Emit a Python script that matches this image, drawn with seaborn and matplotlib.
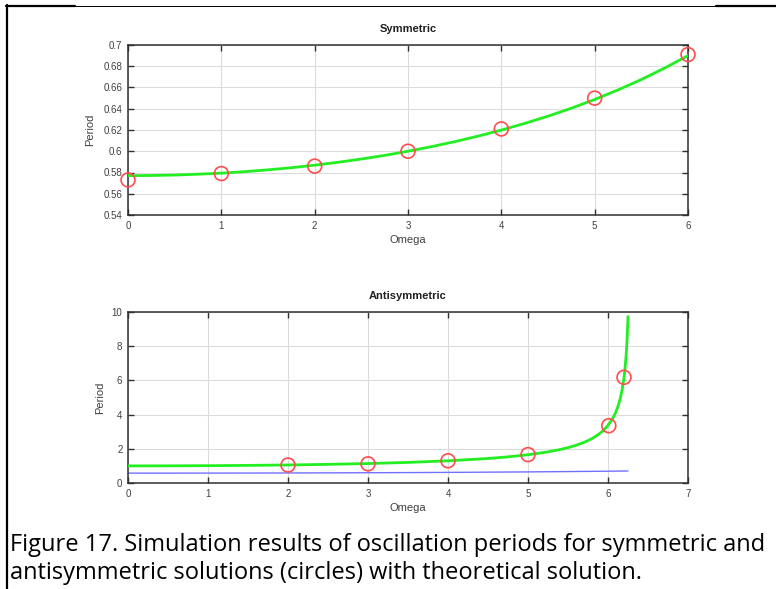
import matplotlib
matplotlib.use("Agg")
import matplotlib.pyplot as plt
import seaborn as sns
from matplotlib.lines import Line2D

# ---------------- data ----------------
# Symmetric: simulation (circles)
sym_omega = [0, 1, 2, 3, 4, 5, 6]
sym_period = [0.573, 0.579, 0.586, 0.600, 0.621, 0.650, 0.691]
# Symmetric: theoretical curve
sym_theory_omega = [0, 0.25, 0.5, 0.75, 1, 1.25, 1.5, 1.75, 2, 2.25, 2.5, 2.75,
                    3, 3.25, 3.5, 3.75, 4, 4.25, 4.5, 4.75, 5, 5.25, 5.5, 5.75, 6]
sym_theory_period = [0.577, 0.5772, 0.5776, 0.5784, 0.5794, 0.5808, 0.5825,
                     0.5845, 0.5869, 0.5896, 0.5927, 0.5961, 0.6000, 0.6043,
                     0.6090, 0.6142, 0.6199, 0.6262, 0.6330, 0.6405, 0.6487,
                     0.6577, 0.6675, 0.6783, 0.6900]

# Antisymmetric: simulation (circles)
anti_omega = [2, 3, 4, 5, 6.01, 6.2]
anti_period = [1.05, 1.12, 1.3, 1.66, 3.35, 6.18]
# Antisymmetric: theoretical curve (green)
anti_theory_omega = [0, 0.5, 1, 1.5, 2, 2.5, 3, 3.5, 4, 4.5, 4.75, 5, 5.25,
                     5.4, 5.5, 5.6, 5.7, 5.75, 5.8, 5.85, 5.9, 5.95, 6.0,
                     6.05, 6.075, 6.1, 6.125, 6.15, 6.175, 6.2, 6.21, 6.225,
                     6.235, 6.24, 6.245, 6.25]
anti_theory_period = [1.0, 1.003, 1.013, 1.030, 1.055, 1.090, 1.138, 1.204,
                      1.297, 1.433, 1.528, 1.651, 1.820, 1.956, 2.068, 2.205,
                      2.377, 2.481, 2.600, 2.741, 2.908, 3.112, 3.369, 3.704,
                      3.917, 4.171, 4.485, 4.882, 5.412, 6.170, 6.571, 7.360,
                      8.090, 8.547, 9.083, 9.736]
# Antisymmetric panel: symmetric theory shown for reference (blue)
blue_omega = [0, 1, 2, 3, 4, 5, 5.5, 6, 6.25]
blue_period = [0.577, 0.579, 0.587, 0.600, 0.620, 0.649, 0.668, 0.690, 0.703]

sym_yticks = [0.54, 0.56, 0.58, 0.6, 0.62, 0.64, 0.66, 0.68, 0.7]
sym_yticklabels = ["0.54", "0.56", "0.58", "0.6", "0.62", "0.64", "0.66", "0.68", "0.7"]
sym_xticks = [0, 1, 2, 3, 4, 5, 6]
anti_yticks = [0, 2, 4, 6, 8, 10]
anti_xticks = [0, 1, 2, 3, 4, 5, 6, 7]

caption_lines = ["Figure 17. Simulation results of oscillation periods for symmetric and",
                 "antisymmetric solutions (circles) with theoretical solution."]

# ---------------- style ----------------
sns.set_style("white")
plt.rcParams['font.family'] = ['Liberation Sans', 'DejaVu Sans']

W, H = 776, 589
fig = plt.figure(figsize=(W / 100, H / 100), dpi=100)

GREEN = "#22ee22"
RED = "#ff4d4d"
BLUE = "#7070ff"
TXT = "#404040"


def style_axes(ax):
    for s in ax.spines.values():
        s.set_color("#303030")
        s.set_linewidth(1.1)
        s.set_visible(True)
    ax.tick_params(direction="in", length=4, width=1.0, colors="#303030",
                   labelcolor=TXT, labelsize=7, top=True, right=True,
                   bottom=True, left=True, pad=4)
    ax.grid(True, color="#dcdcdc", linewidth=0.8)
    ax.set_axisbelow(True)


# Top: Symmetric
ax1 = fig.add_axes([128 / W, 1 - 215 / H, 560 / W, 170 / H])
sns.lineplot(x=sym_theory_omega, y=sym_theory_period, ax=ax1, color=GREEN,
             linewidth=2.0, zorder=3)
sns.scatterplot(x=sym_omega, y=sym_period, ax=ax1, marker="o", s=100,
                facecolor="none", edgecolor=RED, linewidth=1.2, zorder=4,
                clip_on=False)
ax1.set_xlim(0, 6)
ax1.set_ylim(0.54, 0.7)
ax1.set_xticks(sym_xticks)
ax1.set_yticks(sym_yticks)
ax1.set_yticklabels(sym_yticklabels)
style_axes(ax1)
ax1.set_title("Symmetric", fontsize=8, fontweight="bold", color="#202020", pad=9)
ax1.set_xlabel("Omega", fontsize=8, color=TXT, labelpad=3)
ax1.set_ylabel("Period", fontsize=8, color=TXT, labelpad=6)

# Bottom: Antisymmetric
ax2 = fig.add_axes([128 / W, 1 - 483 / H, 560 / W, 171 / H])
sns.lineplot(x=blue_omega, y=blue_period, ax=ax2, color=BLUE, linewidth=1.0, zorder=2)
sns.lineplot(x=anti_theory_omega, y=anti_theory_period, ax=ax2, color=GREEN,
             linewidth=2.0, zorder=3)
sns.scatterplot(x=anti_omega, y=anti_period, ax=ax2, marker="o", s=100,
                facecolor="none", edgecolor=RED, linewidth=1.2, zorder=4)
ax2.set_xlim(0, 7)
ax2.set_ylim(0, 10)
ax2.set_xticks(anti_xticks)
ax2.set_yticks(anti_yticks)
style_axes(ax2)
ax2.set_title("Antisymmetric", fontsize=8, fontweight="bold", color="#202020", pad=9)
ax2.set_xlabel("Omega", fontsize=8, color=TXT, labelpad=3)
ax2.set_ylabel("Period", fontsize=8, color=TXT, labelpad=5)

# Caption
for i, line in enumerate(caption_lines):
    fig.text(10 / W, 1 - (545 + 28 * i) / H, line, fontsize=17,
             family=["Open Sans", "DejaVu Sans"], color="black",
             va="center", ha="left")

# Page frame lines
fig.add_artist(Line2D([6 / W, 75 / W], [1 - 5.5 / H, 1 - 5.5 / H], color="black", linewidth=1.6))
fig.add_artist(Line2D([75 / W, 716 / W], [1 - 5.5 / H, 1 - 5.5 / H], color="black", linewidth=0.7))
fig.add_artist(Line2D([716 / W, 776 / W], [1 - 5.5 / H, 1 - 5.5 / H], color="black", linewidth=1.6))
fig.add_artist(Line2D([7 / W, 7 / W], [1 - 5 / H, 0], color="black", linewidth=1.6))

fig.savefig("out.png", dpi=100)
